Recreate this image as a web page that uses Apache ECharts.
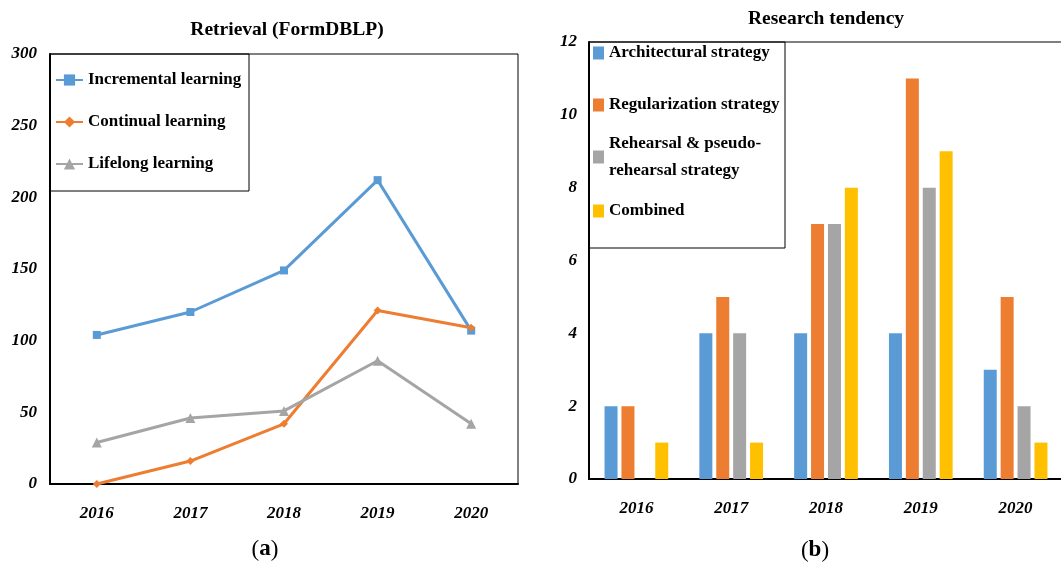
<!DOCTYPE html>
<html>
<head>
<meta charset="utf-8">
<script src="https://cdn.jsdelivr.net/npm/echarts@6/dist/echarts.min.js"></script>
<style>
  html, body { margin: 0; padding: 0; background: #fff; }
  #main { width: 1061px; height: 567px; }
</style>
</head>
<body>
<div id="main"></div>
<script>
// data
var years = ['2016', '2017', '2018', '2019', '2020'];

// (a) Retrieval (FormDBLP)
var incremental = [104, 120, 149, 212, 107];
var continual = [0, 16, 42, 121, 109];
var lifelong = [29, 46, 51, 86, 42];

// (b) Research tendency
var architectural = [2, 4, 4, 4, 3];
var regularization = [2, 5, 7, 11, 5];
var rehearsal = [0, 4, 7, 8, 2];
var combined = [1, 1, 8, 9, 1];

var serif = 'Liberation Serif';
var blue = '#5B9BD5', orange = '#ED7D31', grey = '#A5A5A5', yellow = '#FFC000';

var axisLab = { fontFamily: serif, fontStyle: 'italic', fontWeight: 'bold', fontSize: 17, color: '#000' };
var legendText = { fontFamily: serif, fontWeight: 'bold', fontSize: 17, color: '#000', lineHeight: 20 };

var myChart = echarts.init(document.getElementById('main'));

function rightLegend(name, top, extra) {
    var ts = Object.assign({}, legendText, extra || {});
    return {
        data: [name], left: 593, top: top, padding: 0,
        icon: 'rect', itemWidth: 11, itemHeight: 13,
        textStyle: ts
    };
}

var option = {
    backgroundColor: '#fff',
    animation: false,
    title: [
        { text: 'Retrieval (FormDBLP)', left: 287, top: 20, textAlign: 'center', padding: 0,
          textStyle: { fontFamily: serif, fontWeight: 'bold', fontSize: 19.5, color: '#000' } },
        { text: 'Research tendency', left: 826, top: 9, textAlign: 'center', padding: 0,
          textStyle: { fontFamily: serif, fontWeight: 'bold', fontSize: 19.5, color: '#000' } },
        { text: '({b|a})', left: 265, top: 538, textAlign: 'center', padding: 0,
          textStyle: { fontFamily: serif, fontSize: 23, fontWeight: 'normal', color: '#000',
                       rich: { b: { fontFamily: serif, fontSize: 23, fontWeight: 'bold', color: '#000' } } } },
        { text: '({b|b})', left: 815, top: 539, textAlign: 'center', padding: 0,
          textStyle: { fontFamily: serif, fontSize: 23, fontWeight: 'normal', color: '#000',
                       rich: { b: { fontFamily: serif, fontSize: 23, fontWeight: 'bold', color: '#000' } } } }
    ],
    legend: [
        {
            data: ['Incremental learning', 'Continual learning', 'Lifelong learning'],
            orient: 'vertical', left: 55, top: 70, padding: 0, itemGap: 22,
            itemWidth: 27, itemHeight: 14,
            textStyle: legendText
        },
        rightLegend('Architectural strategy', 43),
        rightLegend('Regularization strategy', 95),
        Object.assign(rightLegend('Rehearsal & pseudo-rehearsal strategy', 114,
            { lineHeight: 27, padding: [32, 0, 0, 0] }),
            { formatter: function () { return 'Rehearsal & pseudo-\nrehearsal strategy'; } }),
        rightLegend('Combined', 201)
    ],
    graphic: [
        { type: 'rect', z: 1, shape: { x: 50, y: 54, width: 199, height: 137 },
          style: { fill: 'transparent', stroke: '#000', lineWidth: 1 } },
        { type: 'rect', z: 1, shape: { x: 589, y: 42, width: 196, height: 206 },
          style: { fill: 'transparent', stroke: '#000', lineWidth: 1 } }
    ],
    grid: [
        { left: 50, top: 54, width: 468, height: 430, show: true, borderColor: '#000', borderWidth: 1,
          outerBoundsMode: 'none' },
        { left: 589, top: 42, width: 474, height: 437, show: true, borderColor: '#000', borderWidth: 1,
          outerBoundsMode: 'none' }
    ],
    xAxis: [
        { type: 'category', gridIndex: 0, data: years,
          axisLine: { lineStyle: { color: '#000', width: 2 } }, axisTick: { show: false },
          axisLabel: Object.assign({ margin: 21 }, axisLab) },
        { type: 'category', gridIndex: 1, data: years,
          axisLine: { lineStyle: { color: '#000', width: 2 } }, axisTick: { show: false },
          axisLabel: Object.assign({ margin: 21 }, axisLab) }
    ],
    yAxis: [
        { type: 'value', gridIndex: 0, min: 0, max: 300, interval: 50,
          axisLine: { show: true, lineStyle: { color: '#000', width: 2 } }, axisTick: { show: false },
          splitLine: { show: false },
          axisLabel: Object.assign({ margin: 13 }, axisLab) },
        { type: 'value', gridIndex: 1, min: 0, max: 12, interval: 2,
          axisLine: { show: true, lineStyle: { color: '#000', width: 2 } }, axisTick: { show: false },
          splitLine: { show: false },
          axisLabel: Object.assign({ margin: 12 }, axisLab) }
    ],
    series: [
        { name: 'Incremental learning', type: 'line', xAxisIndex: 0, yAxisIndex: 0, data: incremental,
          symbol: 'rect', symbolSize: 8, color: blue, lineStyle: { width: 3, color: blue } },
        { name: 'Continual learning', type: 'line', xAxisIndex: 0, yAxisIndex: 0, data: continual,
          symbol: 'diamond', symbolSize: 8, color: orange, lineStyle: { width: 3, color: orange } },
        { name: 'Lifelong learning', type: 'line', xAxisIndex: 0, yAxisIndex: 0, data: lifelong,
          symbol: 'triangle', symbolSize: 10, color: grey, lineStyle: { width: 3, color: grey } },

        { name: 'Architectural strategy', type: 'bar', xAxisIndex: 1, yAxisIndex: 1, data: architectural,
          barWidth: 13, barGap: '30%', itemStyle: { color: blue } },
        { name: 'Regularization strategy', type: 'bar', xAxisIndex: 1, yAxisIndex: 1, data: regularization,
          barWidth: 13, barGap: '30%', itemStyle: { color: orange } },
        { name: 'Rehearsal & pseudo-rehearsal strategy', type: 'bar', xAxisIndex: 1, yAxisIndex: 1, data: rehearsal,
          barWidth: 13, barGap: '30%', itemStyle: { color: grey } },
        { name: 'Combined', type: 'bar', xAxisIndex: 1, yAxisIndex: 1, data: combined,
          barWidth: 13, barGap: '30%', itemStyle: { color: yellow } }
    ]
};

myChart.setOption(option);
</script>
</body>
</html>
